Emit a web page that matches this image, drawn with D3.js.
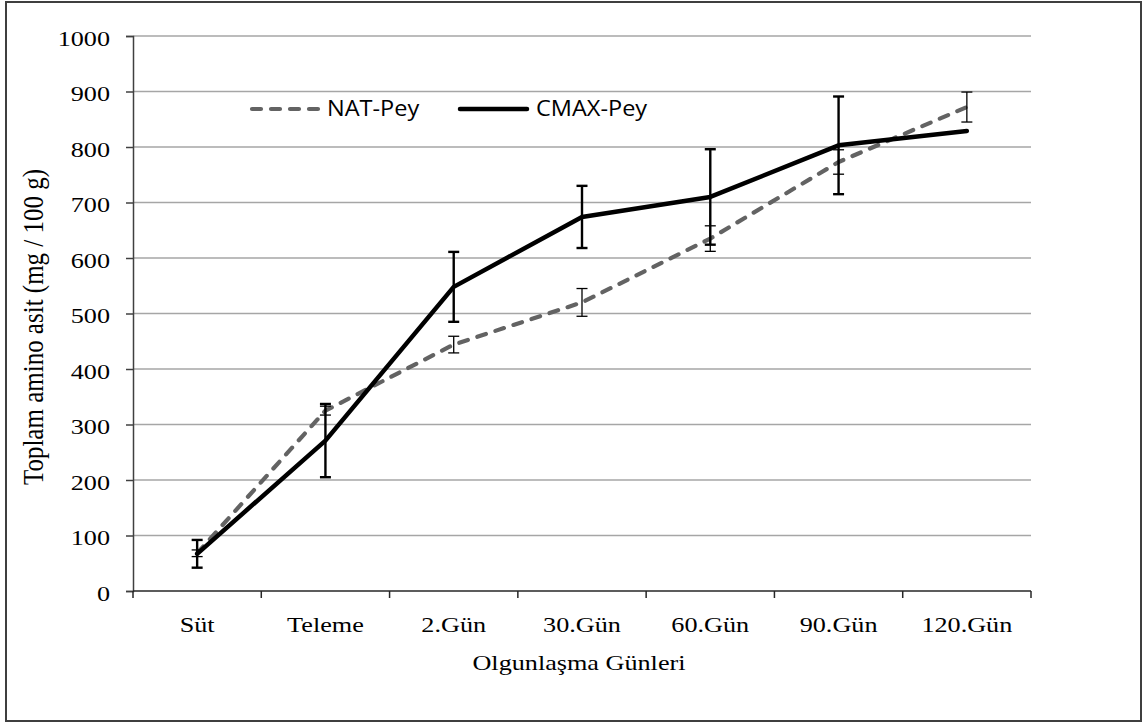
<!DOCTYPE html>
<html>
<head>
<meta charset="utf-8">
<script src="https://cdn.jsdelivr.net/npm/d3@7"></script>
<style>
  html, body { margin: 0; padding: 0; background: #fff; }
  svg { display: block; }
  .serif { font-family: "Liberation Serif", "Times New Roman", serif; }
  .sans { font-family: "Open Sans", Lato, sans-serif; }
</style>
</head>
<body>
<svg id="chart" width="1147" height="724"></svg>
<script>
// Total amino acid content during ripening
const categories = ["Süt", "Teleme", "2.Gün", "30.Gün", "60.Gün", "90.Gün", "120.Gün"];
const natValues  = [68, 325, 444, 520, 635, 773, 872];
const natErrors  = [6, 8, 15, 25, 23, 22, 27];
const cmaxValues = [67, 271, 548, 674, 710, 803, 829];
const cmaxErrors = [25, 66, 63, 56, 86, 88, 0];
const yTicks     = [0, 100, 200, 300, 400, 500, 600, 700, 800, 900, 1000];
const seriesNames = ["NAT-Pey", "CMAX-Pey"];

const svg = d3.select("#chart");
const stretch = 1.19;          // wide text aspect
const plot = { left: 133, right: 1031, top: 36, bottom: 591 };

// widen horizontal text glyphs by the stretch factor
function widen(sel, factor) {
  sel.each(function () {
    const len = this.getComputedTextLength();
    d3.select(this).attr("textLength", len * factor).attr("lengthAdjust", "spacingAndGlyphs");
  });
}

// outer frame
svg.append("rect")
  .attr("x", 6).attr("y", 2)
  .attr("width", 1135).attr("height", 719)
  .attr("fill", "#fff")
  .attr("stroke", "#3f3f3f").attr("stroke-width", 2);

const x = d3.scalePoint().domain(categories).range([plot.left, plot.right]).padding(0.5);
const y = d3.scaleLinear().domain([0, 1000]).range([plot.bottom, plot.top]);
const step = x.step();

// horizontal gridlines
svg.append("g").selectAll("line")
  .data(yTicks.filter(d => d > 0))
  .join("line")
  .attr("x1", plot.left).attr("x2", plot.right)
  .attr("y1", d => y(d)).attr("y2", d => y(d))
  .attr("stroke", "#a6a6a6").attr("stroke-width", 1.5);

// y axis
const yAxis = svg.append("g")
  .attr("transform", `translate(${plot.left},0)`)
  .call(d3.axisLeft(y).tickValues(yTicks).tickSize(7).tickFormat(d3.format("d")));
yAxis.attr("font-family", null).attr("font-size", null);
yAxis.select(".domain").attr("stroke", "#404040").attr("stroke-width", 1.5);
yAxis.selectAll(".tick line").attr("stroke", "#404040").attr("stroke-width", 1.5);
yAxis.selectAll(".tick text").remove();
const yLabels = yAxis.selectAll(".tick").append("text")
  .attr("class", "serif")
  .attr("x", -23).attr("y", 9)
  .attr("text-anchor", "end")
  .style("font-size", "22px")
  .attr("fill", "#000")
  .text(d => d);
widen(yLabels, stretch);

// x axis with ticks on category boundaries
const boundaries = d3.range(categories.length + 1).map(i => plot.left + i * step);
const xg = svg.append("g");
xg.append("line")
  .attr("x1", plot.left).attr("x2", plot.right)
  .attr("y1", plot.bottom).attr("y2", plot.bottom)
  .attr("stroke", "#262626").attr("stroke-width", 1.5);
xg.selectAll("line.tk").data(boundaries).join("line").attr("class", "tk")
  .attr("x1", d => d).attr("x2", d => d)
  .attr("y1", plot.bottom).attr("y2", plot.bottom + 7)
  .attr("stroke", "#262626").attr("stroke-width", 1.5);
const xLabels = xg.selectAll("text").data(categories).join("text")
  .attr("class", "serif")
  .attr("x", d => x(d)).attr("y", 632)
  .attr("text-anchor", "middle")
  .style("font-size", "22px")
  .attr("fill", "#000")
  .text(d => d);
widen(xLabels, stretch);

// axis titles
const xTitle = svg.append("text")
  .attr("class", "serif")
  .attr("x", (plot.left + plot.right) / 2 - 3).attr("y", 670)
  .attr("text-anchor", "middle")
  .style("font-size", "22px")
  .text("Olgunlaşma Günleri");
widen(xTitle, stretch);
svg.append("text")
  .attr("class", "serif")
  .attr("transform", `translate(43,327) scale(${stretch},1) rotate(-90)`)
  .attr("text-anchor", "middle")
  .style("font-size", "25px")
  .text("Toplam amino asit (mg / 100 g)");

// series lines
const line = d3.line().x((d, i) => x(categories[i])).y(d => y(d));

svg.append("path")
  .datum(natValues)
  .attr("d", line)
  .attr("fill", "none")
  .attr("stroke", "#636363").attr("stroke-width", 4.2)
  .attr("stroke-dasharray", "9,10").attr("stroke-linecap", "round")
  .attr("stroke-linejoin", "round");

svg.append("path")
  .datum(cmaxValues)
  .attr("d", line)
  .attr("fill", "none")
  .attr("stroke", "#000").attr("stroke-width", 4.5)
  .attr("stroke-linecap", "round").attr("stroke-linejoin", "round");

// error bars
function errorBars(values, errors, width) {
  const g = svg.append("g").attr("stroke", "#000").attr("stroke-width", width);
  const data = values.map((v, i) => ({ c: categories[i], v, e: errors[i] })).filter(d => d.e > 0);
  g.selectAll("line.v").data(data).join("line").attr("class", "v")
    .attr("x1", d => x(d.c)).attr("x2", d => x(d.c))
    .attr("y1", d => y(d.v + d.e)).attr("y2", d => y(d.v - d.e));
  ["t", "b"].forEach(s => {
    g.selectAll("line.c" + s).data(data).join("line")
      .attr("class", "c" + s)
      .attr("x1", d => x(d.c) - 5.5).attr("x2", d => x(d.c) + 5.5)
      .attr("y1", d => y(s === "t" ? d.v + d.e : d.v - d.e))
      .attr("y2", d => y(s === "t" ? d.v + d.e : d.v - d.e));
  });
}
errorBars(natValues, natErrors, 1.3);
errorBars(cmaxValues, cmaxErrors, 2.4);

// legend
const legend = svg.append("g");
const legendItems = [
  { name: seriesNames[0], x0: 252, x1: 318, tx: 327, dash: "9,10", color: "#636363", w: 4.2 },
  { name: seriesNames[1], x0: 460, x1: 527, tx: 536, dash: null, color: "#000", w: 4.5 }
];
legendItems.forEach(it => {
  legend.append("line")
    .attr("x1", it.x0).attr("x2", it.x1).attr("y1", 109).attr("y2", 109)
    .attr("stroke", it.color).attr("stroke-width", it.w)
    .attr("stroke-linecap", "round")
    .attr("stroke-dasharray", it.dash);
  const t = legend.append("text")
    .attr("class", "sans")
    .attr("x", it.tx).attr("y", 116)
    .style("font-size", "21px")
    .attr("fill", "#000")
    .text(it.name);
  widen(t, 1.12);
});
</script>
</body>
</html>
